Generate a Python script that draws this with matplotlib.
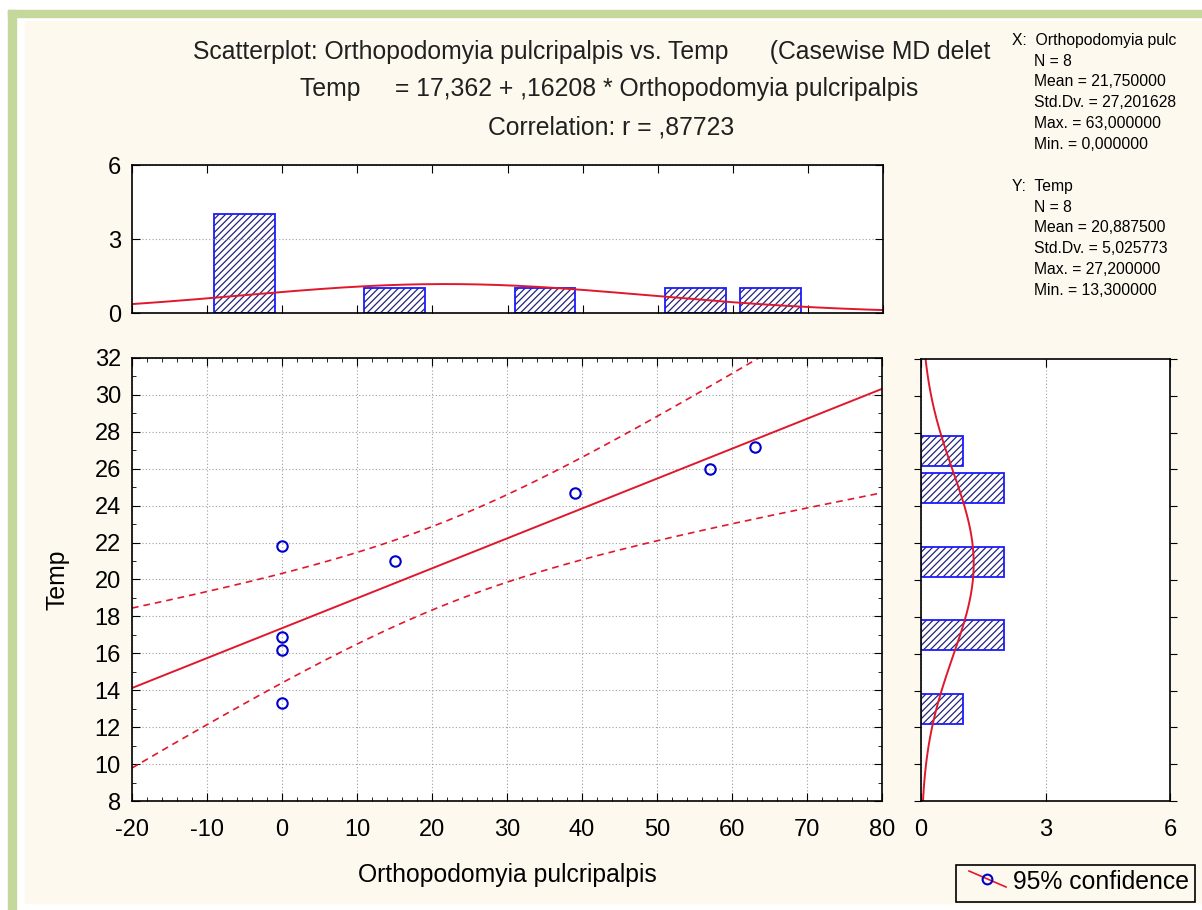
import numpy as np
import pandas as pd
import matplotlib
matplotlib.use('Agg')
import matplotlib.pyplot as plt
from matplotlib.patches import Rectangle
from matplotlib.lines import Line2D

plt.rcParams['font.family'] = ['Liberation Sans', 'DejaVu Sans']
plt.rcParams['hatch.linewidth'] = 0.9
plt.rcParams['axes.unicode_minus'] = False

# data
x_vals = [0, 0, 0, 0, 15, 39, 57, 63]
temp_vals = [21.8, 16.9, 16.2, 13.3, 21.0, 24.7, 26.0, 27.2]
x_edges = [-10, 0, 10, 20, 30, 40, 50, 60, 70]
temp_edges = [12, 14, 16, 18, 20, 22, 24, 26, 28]
t_crit = 2.446912  # t(0.975, df=6)

x_ticks = list(range(-20, 81, 10))
y_ticks = list(range(8, 33, 2))
hist_ticks = [0, 3, 6]

title_lines = ["Scatterplot: Orthopodomyia pulcripalpis vs. Temp      (Casewise MD delet",
               "Temp     = 17,362 + ,16208 * Orthopodomyia pulcripalpis",
               "Correlation: r = ,87723"]
stats_x = ["N = 8", "Mean = 21,750000", "Std.Dv. = 27,201628", "Max. = 63,000000", "Min. = 0,000000"]
stats_y = ["N = 8", "Mean = 20,887500", "Std.Dv. = 5,025773", "Max. = 27,200000", "Min. = 13,300000"]

W, H = 1202, 910
fig = plt.figure(figsize=(W / 100, H / 100), dpi=100, facecolor='white')


def fx(px):
    return px / W


def fy(py):
    return 1 - py / H


def bin_counts(vals, edges):
    cats = pd.cut(pd.Series(vals), edges, right=True)
    return cats.value_counts(sort=False).sort_index().values


# page frame
cream = '#fdf9ee'
green = '#c5d89b'
fig.patches.append(Rectangle((fx(8), 0), fx(8), fy(10), transform=fig.transFigure, color=green, zorder=-5))
fig.patches.append(Rectangle((fx(8), fy(17)), 1, fy(10) - fy(17), transform=fig.transFigure, color=green, zorder=-5))
fig.patches.append(Rectangle((fx(25), fy(903)), 1, fy(21) - fy(903), transform=fig.transFigure, color=cream, zorder=-5))

red = '#e0182c'
blue = '#1a1aff'
navy = '#23237a'
grid_kw = dict(color='#a0a0a0', linestyle=(0, (1, 2)), linewidth=0.8)
tick_fs = 17
text_fs = 17.8

x = np.array(x_vals, dtype=float)
y = np.array(temp_vals, dtype=float)
n = len(x)

# ---- main scatter ----
ax = fig.add_axes([fx(132), fy(801), fx(882) - fx(132), fy(358) - fy(801)])
ax.set_xlim(-20, 80)
ax.set_ylim(8, 32)
ax.set_xticks(x_ticks)
ax.set_yticks(y_ticks)
ax.set_xticks(np.arange(-20, 81, 2), minor=True)
ax.set_yticks(np.arange(8, 33, 1), minor=True)
ax.grid(True, which='major', **grid_kw)
ax.tick_params(which='both', direction='in', top=True, right=True, labelsize=tick_fs)
ax.tick_params(axis='x', pad=13)
ax.tick_params(axis='y', pad=8)
ax.tick_params(which='major', length=6)
ax.tick_params(which='minor', length=3)

b, a = np.polyfit(x, y, 1)
xx = np.linspace(-20, 80, 200)
yy = a + b * xx
resid = y - (a + b * x)
s = np.sqrt(np.sum(resid ** 2) / (n - 2))
sxx = np.sum((x - x.mean()) ** 2)
half = t_crit * s * np.sqrt(1 / n + (xx - x.mean()) ** 2 / sxx)
ax.plot(xx, yy, color=red, lw=1.4)
ax.plot(xx, yy + half, color=red, lw=1.2, ls=(0, (4, 3)))
ax.plot(xx, yy - half, color=red, lw=1.2, ls=(0, (4, 3)))
ax.plot(x, y, 'o', ms=7.5, mfc='none', mec='#0000cc', mew=1.5)
ax.set_xlabel('Orthopodomyia pulcripalpis', fontsize=text_fs, labelpad=16)
ax.set_ylabel('Temp', fontsize=text_fs, labelpad=18)
for sp in ax.spines.values():
    sp.set_linewidth(1.2)

# ---- top histogram ----
axt = fig.add_axes([fx(132), fy(313), fx(883) - fx(132), fy(165) - fy(313)])
xc = bin_counts(x, x_edges)
x_centers = (np.array(x_edges[:-1]) + np.array(x_edges[1:])) / 2
keep = xc > 0
axt.bar(x_centers[keep], xc[keep], width=8.1, color='white', edgecolor=navy, hatch='/////', lw=0)
axt.bar(x_centers[keep], xc[keep], width=8.1, fill=False, edgecolor=blue, lw=1.3)
xs = np.linspace(-20, 80, 200)
sd_x = x.std(ddof=1)
axt.plot(xs, n * 10 * np.exp(-0.5 * ((xs - x.mean()) / sd_x) ** 2) / (sd_x * np.sqrt(2 * np.pi)), color=red, lw=1.4)
axt.set_xlim(-20, 80)
axt.set_ylim(0, 6)
axt.set_yticks(hist_ticks)
axt.set_xticks(x_ticks)
axt.set_xticklabels([])
axt.yaxis.grid(True, **grid_kw)
axt.tick_params(direction='in', top=True, right=True, length=6, labelsize=tick_fs, pad=8)
for sp in axt.spines.values():
    sp.set_linewidth(1.2)

# ---- right histogram ----
axr = fig.add_axes([fx(921), fy(801), fx(1170) - fx(921), fy(359) - fy(801)])
yc = bin_counts(y, temp_edges)
y_centers = (np.array(temp_edges[:-1]) + np.array(temp_edges[1:])) / 2
keep = yc > 0
axr.barh(y_centers[keep], yc[keep], height=1.62, color='white', edgecolor=navy, hatch='/////', lw=0)
axr.barh(y_centers[keep], yc[keep], height=1.62, fill=False, edgecolor=blue, lw=1.3)
ys = np.linspace(8, 32, 200)
sd_y = y.std(ddof=1)
axr.plot(n * 2 * np.exp(-0.5 * ((ys - y.mean()) / sd_y) ** 2) / (sd_y * np.sqrt(2 * np.pi)), ys, color=red, lw=1.4)
axr.set_xlim(0, 6)
axr.set_ylim(8, 32)
axr.set_xticks(hist_ticks)
axr.set_yticks(y_ticks)
axr.set_yticklabels([])
axr.xaxis.grid(True, **grid_kw)
axr.tick_params(axis='y', direction='out', right=True, length=5)
axr.tick_params(axis='x', direction='in', top=True, length=6, labelsize=tick_fs, pad=13)
for sp in axr.spines.values():
    sp.set_linewidth(1.2)

# ---- titles ----
title_x = [193, 300, 488]
title_y = [52, 89, 127]
for t, px, py in zip(title_lines, title_x, title_y):
    fig.text(fx(px), fy(py), t, fontsize=text_fs, ha='left', va='center', color='#202020')

# ---- stats block ----
stat_fs = 11.3
fig.text(fx(1012), fy(41), "X:  Orthopodomyia pulc", fontsize=stat_fs, ha='left', va='center')
for i, t in enumerate(stats_x):
    fig.text(fx(1034), fy(61 + 20.8 * i), t, fontsize=stat_fs, ha='left', va='center')
fig.text(fx(1012), fy(187), "Y:  Temp", fontsize=stat_fs, ha='left', va='center')
for i, t in enumerate(stats_y):
    fig.text(fx(1034), fy(207 + 20.8 * i), t, fontsize=stat_fs, ha='left', va='center')

# ---- legend box ----
fig.patches.append(Rectangle((fx(956), fy(902)), fx(1195) - fx(956), fy(865) - fy(902),
                             transform=fig.transFigure, facecolor=cream, edgecolor='black', lw=1.2, zorder=3))
fig.lines.append(Line2D([fx(969), fx(1006)], [fy(871), fy(887)], transform=fig.transFigure, color=red, lw=1.2, zorder=4))
fig.lines.append(Line2D([fx(987)], [fy(879)], transform=fig.transFigure, marker='o', ms=7, mfc='none',
                        mec='#0000cc', mew=1.5, zorder=5))
fig.text(fx(1013), fy(882), "95% confidence", fontsize=text_fs, ha='left', va='center', zorder=6)

fig.savefig('out.png', dpi=100, facecolor=fig.get_facecolor())
